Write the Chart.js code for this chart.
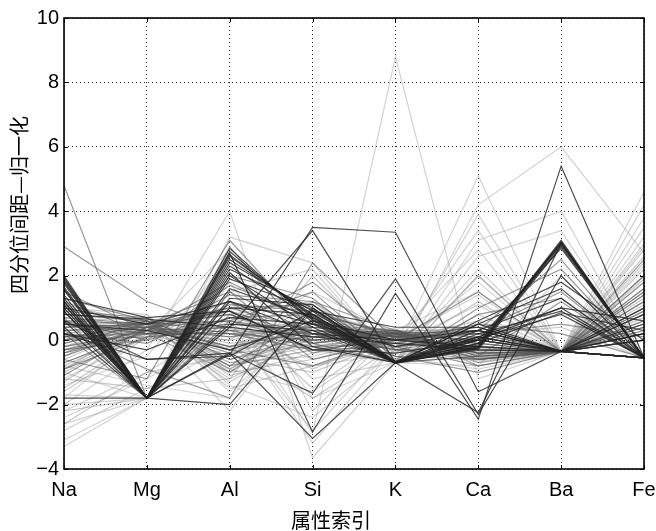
<!DOCTYPE html>
<html>
<head>
<meta charset="utf-8">
<script src="https://cdn.jsdelivr.net/npm/chart.js@4.4.0/dist/chart.umd.min.js"></script>
<style>
  html, body { margin: 0; padding: 0; background: #fff; }
</style>
</head>
<body>
<canvas id="pc" width="656" height="531"></canvas>
<script>
// axis labels
const attributes = ["Na", "Mg", "Al", "Si", "K", "Ca", "Ba", "Fe"];
const yTicks = [-4, -2, 0, 2, 4, 6, 8, 10];
const xTitle = "属性索引";
const yTitle = "四分位间距—归一化";

// each row: Na, Mg, Al, Si, K, Ca, Ba, Fe
const darkLines = [
  [1.95, -1.8, 2.65, 0.70, -0.70, -0.20, 3.00, -0.55],
  [1.85, -1.8, 2.75, 0.62, -0.70, -0.25, 2.95, -0.55],
  [2.00, -1.8, 2.50, 0.80, -0.72, -0.15, 3.05, -0.55],
  [1.75, -1.8, 2.85, 0.55, -0.70, -0.30, 2.90, -0.55],
  [1.60, -1.8, 2.40, 0.90, -0.68, -0.10, 3.00, -0.55],
  [1.90, -1.8, 2.30, 0.65, -0.72, -0.20, 3.10, -0.55],
  [1.55, -1.8, 2.20, 1.00, -0.70, 0.00, 2.85, -0.55],
  [1.80, -1.8, 2.60, 0.75, -0.70, -0.25, 3.05, -0.55],
  [1.30, -1.8, 1.90, 0.95, -0.65, 0.10, 1.00, -0.55],
  [1.20, -1.8, 1.60, 0.70, -0.70, 0.20, 0.90, -0.55],
  [1.00, -1.8, 1.30, 1.10, -0.70, -0.10, 0.85, 0.30],
  [1.40, -1.8, 1.20, 0.50, -0.70, 0.30, 1.30, -0.55],
  [0.90, -1.8, 1.00, 0.80, -0.68, 0.00, 1.00, 0.60],
  [1.10, -1.8, 0.50, 0.30, -0.70, 0.50, 1.60, -0.55],
  [1.65, -1.8, 2.00, 0.40, -0.70, 0.05, 0.80, -0.55],
  [0.90, -1.8, -0.45, 3.50, 3.35, -1.60, -0.35, -0.55],
  [1.20, -1.8, 0.40, 3.40, -0.70, 0.10, -0.35, -0.55],
  [0.40, -1.8, 2.70, -2.85, 1.45, -2.45, 5.40, -0.55],
  [0.20, -0.60, -0.40, -1.65, 1.90, -2.30, 2.00, -0.55],
  [0.60, -1.8, -0.40, -3.05, -0.70, -2.25, 3.00, -0.55],
  [-1.80, -1.8, -2.00, 1.00, -0.70, 0.50, -0.35, 0.20],
  [0.20, -0.30, 0.70, 0.50, -0.20, 0.30, -0.35, 0.80],
  [0.60, -0.60, -0.50, 0.90, 0.40, 0.40, -0.35, -0.55],
  [1.00, 0.50, 1.20, 0.20, 0.00, -0.20, -0.35, 0.20],
  [0.80, 0.65, 0.40, 0.10, -0.10, -0.30, -0.35, 1.00],
  [1.30, 0.70, 0.90, -0.30, -0.40, 0.00, -0.35, 0.00],
  [0.50, 0.30, -0.30, 0.60, 0.00, 0.30, -0.35, 0.50],
  [1.10, -1.8, 2.10, -0.20, -0.70, 0.60, 1.80, 0.00]
];

const midLines = [
  [2.90, 1.20, 0.30, 0.20, -0.30, -0.20, -0.35, -0.55],
  [4.80, -1.8, 0.60, 1.50, -0.70, -0.50, -0.35, -0.55],
  [0.70, 0.50, 1.00, 0.30, 0.10, -0.20, -0.35, 0.80],
  [0.30, 0.40, 0.80, 0.00, 0.20, 0.10, -0.35, 1.50],
  [-0.20, 0.30, 1.20, -0.40, 0.20, 0.00, -0.35, -0.55],
  [0.10, 0.20, 0.50, 0.40, 0.10, 0.40, -0.35, 0.30],
  [-0.50, 0.40, 0.90, 0.10, 0.30, -0.10, -0.35, 2.00],
  [0.40, 0.50, 1.50, -0.60, 0.00, 0.20, -0.35, 0.00],
  [0.00, 0.10, 0.30, -0.20, -0.10, 0.50, 0.20, -0.55],
  [-0.30, 0.00, 0.70, 0.80, 0.20, -0.30, -0.35, 1.20],
  [0.80, 0.60, 0.20, -0.30, -0.20, 0.00, -0.35, 0.60],
  [-0.70, 0.30, 1.80, 0.50, 0.30, -0.40, -0.35, -0.55],
  [0.20, -0.10, 1.10, 0.90, 0.10, 0.30, 1.50, -0.55],
  [0.50, 0.40, -0.20, 0.30, 0.00, -0.10, -0.35, 1.80],
  [-0.10, 0.50, 0.60, -0.10, 0.25, 0.20, -0.35, 0.40],
  [0.90, 0.70, -0.60, 0.20, -0.30, 0.10, -0.35, -0.55],
  [1.20, 0.20, -1.00, 0.60, -0.70, 1.00, 2.20, -0.55],
  [-0.90, 0.10, 1.40, 1.20, 0.30, -0.40, -0.35, 1.00],
  [0.30, -0.90, -1.80, 2.40, 0.00, 1.50, -0.35, -0.55],
  [1.50, 0.30, 1.00, 1.10, -0.50, -0.60, -0.35, 0.00],
  [0.00, 0.60, -0.30, -0.80, 0.10, 0.40, -0.35, 2.50],
  [-0.40, 0.20, 0.20, 0.00, 0.15, 0.00, -0.35, 0.20],
  [0.60, 0.00, 1.70, 0.70, -0.20, -0.80, -0.35, -0.55],
  [1.00, -1.8, 2.90, -0.10, -0.70, 0.30, 2.50, -0.55],
  [0.20, -1.8, 2.00, 1.30, -0.70, -0.50, 1.20, -0.55],
  [-1.10, 0.40, 0.10, 0.40, 0.20, 0.30, -0.35, 1.40],
  [0.40, 0.50, 0.90, -0.30, 0.00, 0.20, 0.50, 0.10],
  [0.70, -1.8, 1.50, 0.20, -0.70, 0.80, 1.30, -0.55],
  [1.30, 0.60, -0.80, 0.80, -0.20, 0.10, -0.35, -0.55],
  [-0.60, -1.20, 3.10, 0.30, -0.50, -1.00, -0.35, -0.55],
  [0.50, 0.20, 0.40, 1.80, -0.30, -0.60, -0.35, 0.00],
  [0.10, 0.40, 0.60, 0.20, 0.30, -0.50, -0.35, 0.90],
  [-0.30, 0.30, 0.40, 0.10, 0.20, -0.60, -0.35, 1.60],
  [0.60, 0.50, 0.80, -0.10, 0.25, -0.40, -0.35, 0.40]
];

const lightLines = [
  [0.10, 0.50, -0.60, 0.00, 0.10, -0.40, -0.35, 0.80],
  [-0.20, 0.60, -0.90, 0.30, 0.20, -0.50, -0.35, 1.50],
  [0.30, 0.40, -0.40, -0.20, 0.15, -0.30, -0.35, -0.55],
  [-0.50, 0.50, -0.20, 0.10, 0.25, -0.60, -0.35, 2.00],
  [0.60, 0.70, -1.10, -0.40, -0.10, -0.20, -0.35, 0.40],
  [0.00, 0.30, 0.00, 0.40, 0.30, -0.70, -0.35, 1.20],
  [-0.80, 0.40, -0.50, 0.50, 0.20, -0.50, -0.35, -0.55],
  [0.40, 0.60, -0.70, -0.50, 0.05, -0.40, -0.35, 2.60],
  [-0.30, 0.50, -1.30, 0.20, 0.10, -0.30, -0.35, 0.00],
  [0.20, 0.40, -0.30, 0.00, 0.20, -0.60, -0.35, 1.00],
  [-1.00, 0.30, 0.10, 0.60, 0.30, -0.50, -0.35, 0.60],
  [0.80, 0.60, -0.80, -0.30, 0.00, -0.30, -0.35, 1.80],
  [-0.60, 0.50, -0.60, -0.10, 0.15, -0.45, -0.35, -0.55],
  [0.50, 0.20, 0.20, 0.30, 0.10, -0.55, -0.35, 0.30],
  [-1.30, 0.40, -0.20, 0.80, 0.25, 0.40, -0.35, 2.20],
  [0.00, 0.70, -1.00, -0.60, -0.05, -0.35, -0.35, 1.40],
  [-0.40, 0.40, -0.40, 0.40, 0.20, -0.65, -0.35, 0.90],
  [0.30, 0.50, -1.20, 0.10, 0.05, -0.25, -0.35, -0.55],
  [-1.60, 0.10, 0.30, 0.60, 0.10, 0.00, -0.35, 3.00],
  [-2.20, -1.8, 0.80, -0.30, -0.70, 2.00, -0.35, -0.55],
  [-2.60, -1.00, -0.50, 1.20, -0.40, 1.20, -0.35, 0.50],
  [-1.20, -1.50, -1.20, 2.00, -0.60, 0.80, -0.35, -0.55],
  [-1.50, 0.20, 0.00, 1.50, 0.20, -0.50, -0.35, 1.60],
  [0.70, 0.40, -0.50, -1.00, 0.00, 0.60, -0.35, 0.20],
  [-0.90, 0.60, -1.50, -0.80, -0.10, 0.50, -0.35, 2.80],
  [0.40, 0.30, 0.50, -0.60, 0.10, 0.20, 0.40, -0.55],
  [-0.20, 0.20, 0.90, -1.50, 0.30, 0.30, -0.35, 1.10],
  [1.10, 0.50, -0.20, -1.80, -0.20, 1.10, -0.35, -0.55],
  [-0.70, 0.30, 0.40, -0.90, 0.20, -0.30, -0.35, 0.70],
  [0.20, 0.60, -0.90, 0.50, 0.10, -0.70, -0.35, 2.40],
  [-0.10, 0.45, -0.10, 0.20, 0.25, -0.45, -0.35, 0.00],
  [0.50, 0.55, -0.70, -0.20, 0.15, -0.55, -0.35, 1.30],
  [-0.90, 0.35, -0.30, 0.30, 0.35, -0.80, -0.35, 0.50],
  [-0.40, 0.55, -0.80, 0.00, 0.30, -0.60, -0.35, 1.90]
];

const paleLines = [
  [-3.30, -1.8, 1.00, -2.90, 8.80, -1.20, -0.35, -0.55],
  [-2.00, -0.30, 4.00, -3.65, -0.70, 2.00, -0.35, -0.55],
  [-2.40, -1.20, 0.30, -0.80, -0.40, 5.10, -0.35, 2.00],
  [-1.70, -1.8, 1.20, -1.20, -0.70, 4.20, 6.00, 2.70],
  [-2.80, -1.50, -0.20, 0.50, -0.50, 3.90, -0.35, 1.20],
  [-2.00, -1.8, 0.80, 1.20, -0.70, 3.10, 4.00, -0.55],
  [-1.40, -0.50, 2.50, -2.20, 0.30, 1.50, -0.35, -0.55],
  [-3.10, -1.8, 1.50, 2.20, -0.70, 0.50, -0.35, 4.60],
  [-1.80, 0.30, -0.90, -1.60, 0.10, 2.80, -0.35, 3.20],
  [-2.20, -1.00, 0.60, -3.20, -0.20, 3.40, -0.35, 0.00],
  [-0.50, 0.80, -1.60, 0.60, 0.00, 0.30, -0.35, 3.50],
  [0.30, 0.50, -2.20, 1.20, -0.30, -0.50, -0.35, 2.90],
  [-1.00, -1.8, 3.20, 2.40, -0.70, -0.80, 2.00, -0.55],
  [-0.80, -1.40, -1.80, 0.90, -0.60, 2.20, -0.35, -0.55],
  [1.00, 0.80, -1.40, -2.40, -0.30, 1.80, -0.35, 1.00],
  [-2.60, -1.8, 1.80, -1.80, -0.70, 2.60, 3.40, -0.55],
  [0.00, 0.30, -0.80, -0.30, 0.30, -0.80, -0.35, 3.80],
  [-1.20, 0.10, 0.40, -2.80, 0.00, 1.40, -0.35, 2.30],
  [0.60, 0.20, 2.80, 0.00, -0.50, -0.90, -0.35, -0.55],
  [-0.40, 0.60, -1.00, 1.00, 0.10, -0.20, -0.35, 4.20]
];

const groups = [
  { rows: darkLines, color: "rgba(35,35,35,0.8)", order: 0 },
  { rows: midLines, color: "rgba(85,85,85,0.6)", order: 1 },
  { rows: lightLines, color: "rgba(130,130,130,0.45)", order: 2 },
  { rows: paleLines, color: "rgba(165,165,165,0.5)", order: 3 }
];

const datasets = [];
groups.forEach(g => {
  g.rows.forEach(r => {
    datasets.push({
      data: r,
      borderColor: g.color,
      borderWidth: 1.2,
      pointRadius: 0,
      tension: 0,
      fill: false,
      order: g.order
    });
  });
});

const tickFont = { family: "'Liberation Sans Narrow', 'Liberation Sans', sans-serif", size: 20 };

// box + inward ticks + axis titles
const framePlugin = {
  id: "frame",
  afterDraw(c) {
    const { ctx, chartArea: a, scales } = c;
    ctx.save();
    ctx.strokeStyle = "#000";
    ctx.lineWidth = 1;
    ctx.beginPath();
    yTicks.forEach(v => {
      const y = Math.round(scales.y.getPixelForValue(v)) + 0.5;
      ctx.moveTo(a.left, y); ctx.lineTo(a.left + 4, y);
      ctx.moveTo(a.right, y); ctx.lineTo(a.right - 4, y);
    });
    attributes.forEach((n, i) => {
      const x = Math.round(scales.x.getPixelForValue(i)) + 0.5;
      ctx.moveTo(x, a.bottom); ctx.lineTo(x, a.bottom - 4);
      ctx.moveTo(x, a.top); ctx.lineTo(x, a.top + 4);
    });
    ctx.stroke();
    ctx.lineWidth = 1.6;
    ctx.strokeRect(a.left, a.top, a.right - a.left, a.bottom - a.top);

    ctx.fillStyle = "#000";
    ctx.font = "20px 'Noto Sans CJK SC'";
    ctx.textAlign = "center";
    ctx.textBaseline = "middle";
    ctx.fillText(xTitle, 331, 520);
    ctx.translate(19, 205);
    ctx.rotate(-Math.PI / 2);
    ctx.fillText(yTitle, 0, 0);
    ctx.restore();
  }
};

new Chart(document.getElementById("pc"), {
  type: "line",
  data: { labels: attributes, datasets: datasets },
  options: {
    responsive: false,
    devicePixelRatio: 1,
    animation: false,
    events: [],
    layout: { padding: { top: 18, right: 0, left: 0, bottom: 0 } },
    plugins: { legend: { display: false }, tooltip: { enabled: false } },
    scales: {
      x: {
        type: "category",
        offset: false,
        grid: { color: "rgba(0,0,0,0.85)", lineWidth: 1, drawTicks: false },
        border: { display: false, dash: [1, 3] },
        ticks: { color: "#000", font: tickFont, padding: 9, maxRotation: 0, autoSkip: false },
        afterFit(s) {
          s.height = 62;
          s.paddingLeft = 0;
          s.paddingRight = 12;
        }
      },
      y: {
        min: -4,
        max: 10,
        grid: { color: "rgba(0,0,0,0.85)", lineWidth: 1, drawTicks: false },
        border: { display: false, dash: [1, 3] },
        ticks: {
          stepSize: 2,
          color: "#000",
          font: tickFont,
          padding: 5,
          callback: v => String(v).replace("-", "\u2212")
        },
        afterFit(s) {
          s.width = 64;
          s.paddingTop = 0;
          s.paddingBottom = 0;
        }
      }
    }
  },
  plugins: [framePlugin]
});
</script>
</body>
</html>
